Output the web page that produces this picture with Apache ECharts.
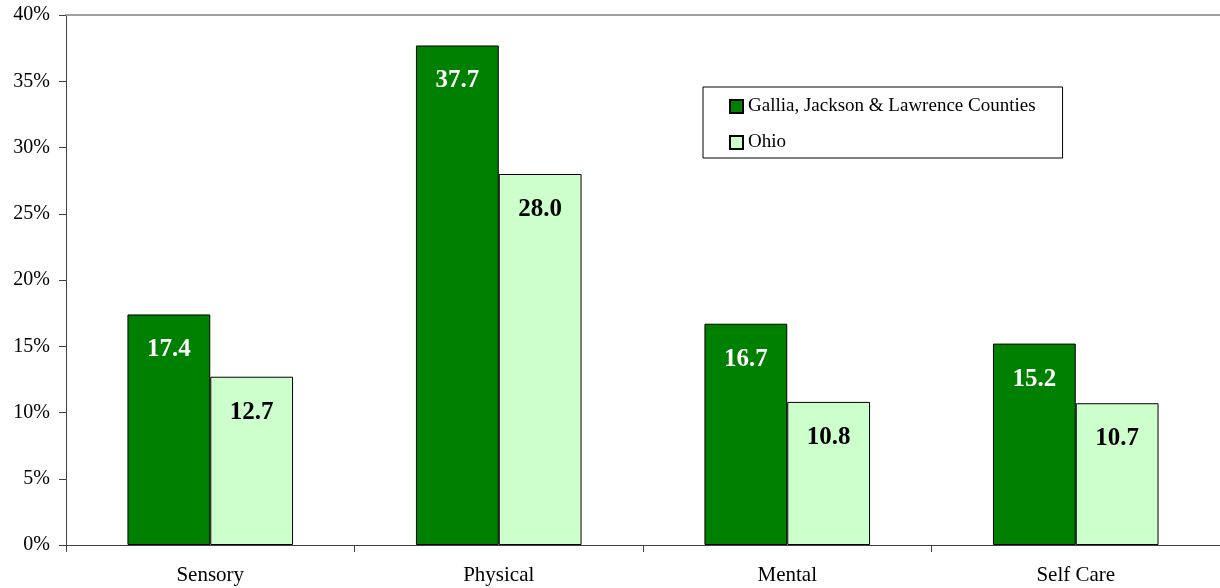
<!DOCTYPE html>
<html><head><meta charset="utf-8">
<script src="https://cdn.jsdelivr.net/npm/echarts@6/dist/echarts.min.js"></script>
<style>html,body{margin:0;padding:0;background:#fff}#c{width:1220px;height:588px}</style>
</head><body><div id="c"></div>
<script>
const categories = ['Sensory', 'Physical', 'Mental', 'Self Care'];
const seriesNames = ['Gallia, Jackson & Lawrence Counties', 'Ohio'];
const regionValues = [17.4, 37.7, 16.7, 15.2];
const ohioValues = [12.7, 28.0, 10.8, 10.7];
const yTicks = [0, 5, 10, 15, 20, 25, 30, 35, 40];

const FONT = '"Liberation Serif", "Times New Roman", serif';
const chart = echarts.init(document.getElementById('c'));
chart.setOption({
  animation: false,
  backgroundColor: '#fff',
  grid: { left: 66, top: 15, right: -4, bottom: 43, containLabel: false },
  legend: {
    orient: 'vertical', left: 703, top: 87,
    padding: [10, 27, 6, 26], itemGap: 17,
    itemWidth: 13, itemHeight: 13,
    borderColor: '#000', borderWidth: 1, backgroundColor: '#fff',
    textStyle: { fontFamily: FONT, fontSize: 19, color: '#000' },
    data: seriesNames.map(n => ({ name: n, icon: 'rect' }))
  },
  xAxis: [{
    type: 'category', data: categories,
    axisLine: { lineStyle: { color: '#404040', width: 1 } },
    axisTick: { show: true, length: 7, lineStyle: { color: '#404040' } },
    axisLabel: { fontFamily: FONT, fontSize: 21, color: '#000', margin: 20 }
  }, {
    type: 'category', data: categories, position: 'top',
    axisLine: { show: true, lineStyle: { color: '#a0a0a0', width: 2 } },
    axisTick: { show: false }, axisLabel: { show: false }
  }],
  yAxis: {
    type: 'value', min: yTicks[0], max: yTicks[yTicks.length - 1], interval: 5,
    axisLine: { show: true, lineStyle: { color: '#404040' } },
    axisTick: { show: true, length: 7, lineStyle: { color: '#404040' } },
    splitLine: { show: false },
    axisLabel: { fontFamily: FONT, fontSize: 20, color: '#000', margin: 16, padding: [4, 0, 0, 0], formatter: v => v + '%' }
  },
  series: [{
    name: seriesNames[0], type: 'bar', data: regionValues,
    barGap: '0%', barCategoryGap: '42.6%',
    itemStyle: { color: '#008000', borderColor: '#000', borderWidth: 1 },
    label: { show: true, position: 'insideTop', distance: 23, fontFamily: FONT, fontSize: 25, fontWeight: 'bold', color: '#fff', formatter: p => p.value.toFixed(1) }
  }, {
    name: seriesNames[1], type: 'bar', data: ohioValues,
    itemStyle: { color: '#CCFFCC', borderColor: '#000', borderWidth: 1 },
    label: { show: true, position: 'insideTop', distance: 23, fontFamily: FONT, fontSize: 25, fontWeight: 'bold', color: '#000', formatter: p => p.value.toFixed(1) }
  }]
});
</script></body></html>
